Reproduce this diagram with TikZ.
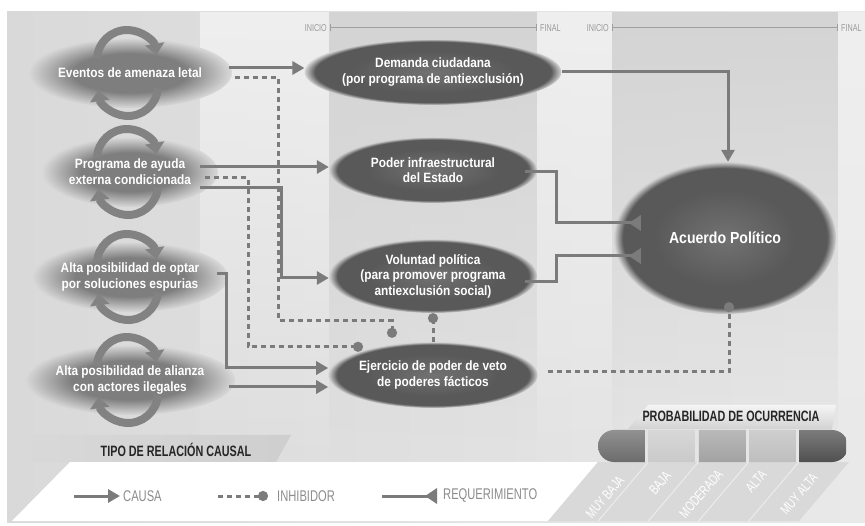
\documentclass[tikz,border=0pt]{standalone}
\usepackage{fontspec}
\setmainfont{Liberation Sans}[FakeStretch=0.88]
\newfontfamily\narrowfont{Liberation Sans}[FakeStretch=0.72]
\usetikzlibrary{shapes.geometric,arrows.meta,positioning,fadings}

\definecolor{panelL}{HTML}{D9D9D9}
\definecolor{panelR}{HTML}{E9E9E9}
\definecolor{band}{HTML}{D4D4D4}
\definecolor{lane}{HTML}{EFEFEF}
\definecolor{conn}{HTML}{7B7B7B}
\definecolor{ovalc}{HTML}{595959}
\definecolor{fuzz}{HTML}{7E7E7E}
\definecolor{arcgray}{HTML}{828282}
\definecolor{legtxt}{HTML}{8C8C8C}
\definecolor{pmb}{HTML}{6C6C6C}
\definecolor{pb}{HTML}{CACACA}
\definecolor{pm}{HTML}{A2A2A2}
\definecolor{pa}{HTML}{BEBEBE}
\definecolor{pma}{HTML}{505050}

\pgfdeclareradialshading{fuzzshade}{\pgfpoint{0bp}{0bp}}{color(0bp)=(fuzz); color(14bp)=(fuzz); color(25bp)=(panelL); color(50bp)=(panelL)}
\pgfdeclareradialshading{ovalshade}{\pgfpoint{0bp}{0bp}}{color(0bp)=(ovalc!85!white); color(16bp)=(ovalc); color(23bp)=(ovalc); color(25bp)=(band); color(50bp)=(band)}
\tikzfading[name=bandfade, top color=transparent!0, bottom color=transparent!100]

\begin{document}
\begin{tikzpicture}[x=1pt,y=-1pt,
    fuzzy/.style={ellipse, shade, shading=fuzzshade, minimum width=176, minimum height=70, inner sep=0pt, text=white, align=center, font=\bfseries\fontsize{13.5}{16}\selectfont},
    oval/.style={ellipse, shade, shading=ovalshade, minimum width=208, minimum height=66, inner sep=0pt, text=white, align=center, font=\bfseries\fontsize{13.5}{15.5}\selectfont},
    causa/.style={draw=conn, line width=3pt, -{Triangle[length=12pt,width=13pt]}},
    inhib/.style={draw=conn, line width=3pt, dash pattern=on 5pt off 4pt, -{Circle[length=10pt]}},
    req/.style={draw=conn, line width=3pt, -{Triangle[reversed,length=12pt,width=15pt]}},
    cyc/.style={draw=arcgray, line width=8pt, -{Triangle[length=11pt,width=19pt]}},
    phase/.style={draw=gray!75, line width=1pt, {Bar[width=7pt]}-{Bar[width=7pt]}},
    phaselbl/.style={font=\narrowfont\fontsize{10}{10}\selectfont, text=gray!80, inner sep=1pt},
    legtext/.style={font=\narrowfont\fontsize{15.5}{16}\selectfont, text=legtxt, inner sep=0pt},
    tabtext/.style={font=\narrowfont\bfseries\fontsize{15}{16}\selectfont, text=black!85, inner sep=0pt},
    lvl/.style={font=\narrowfont\fontsize{14}{14}\selectfont, text=white, rotate=49, inner sep=0pt}]

    \useasboundingbox (0,0) rectangle (865,526);
    % background and time bands
    \fill[white] (0,0) rectangle (865,526);
    \shade[left color=panelL, right color=panelR] (7,12) rectangle (865,522);
    \fill[lane, path fading=bandfade] (200,12) rectangle (329,470);
    \fill[band, path fading=bandfade] (329,12) rectangle (537,470);
    \fill[lane, path fading=bandfade] (537,12) rectangle (612,470);
    \fill[band, path fading=bandfade] (612,12) rectangle (838,470);
    \fill[lane, path fading=bandfade] (838,12) rectangle (865,470);

    \coordinate (i1) at (330,28); \coordinate (f1) at (537,28);
    \coordinate (i2) at (612,28); \coordinate (f2) at (838,28);
    \draw[phase] (i1) -- (f1);
    \draw[phase] (i2) -- (f2);
    \node[phaselbl, left=2pt of i1] (ini1) {INICIO};
    \node[phaselbl, right=2pt of f1] (fin1) {FINAL};
    \node[phaselbl, left=2pt of i2] (ini2) {INICIO};
    \node[phaselbl, right=2pt of f2] (fin2) {FINAL};

    % legend
    \shade[left color=panelL, right color=gray!38] (20,435) -- (291,435) -- (276,462) -- (20,462) -- cycle;
    \node[tabtext] (tipo) at (176,450) {TIPO DE RELACIÓN CAUSAL};
    \fill[white] (70,462) -- (598,462) -- (548,521) -- (12,521) -- cycle;
    \fill[gray!30] (598,462) -- (849,462) -- (799,521) -- (548,521) -- cycle;
    \foreach \i in {1,...,4}
        \draw[white!85!gray, line width=1pt] ({598+50.2*\i},462) -- ++(-50,59);

    \coordinate (c1) at (74,496); \coordinate (c2) at (120,496);
    \draw[causa] (c1) -- (c2);
    \node[legtext, right=3pt of c2] (lcausa) {CAUSA};
    \coordinate (h1) at (218,496); \coordinate (h2) at (268,496);
    \draw[inhib] (h1) -- (h2);
    \node[legtext, right=9pt of h2] (linhib) {INHIBIDOR};
    \coordinate (r1) at (382,496); \coordinate (r2) at (437,496);
    \draw[req] (r1) -- (r2);
    \node[legtext, right=6pt of r2] (lreq) {REQUERIMIENTO};

    \shade[top color=gray!8, bottom color=gray!35] (628,429) -- (648,405) -- (836,405) -- (832,429) -- cycle;
    \node[tabtext] (prob) at (731,416) {PROBABILIDAD DE OCURRENCIA};
    \begin{scope}
        \clip[rounded corners=16pt] (598,430) rectangle (848,462);
        \foreach \c [count=\i from 0] in {pmb,pb,pm,pa,pma}
            \shade[top color=\c!75!white, bottom color=\c] ({598+50.4*\i},430) rectangle ++(46.5,32);
    \end{scope}
    \foreach \t/\x/\y [count=\i] in {MUY BAJA/605/497, BAJA/660/483, MODERADA/701/494, ALTA/756/481, MUY ALTA/799/494}
        \node[lvl] (lv\i) at (\x,\y) {\t};

    % factors
    \node[fuzzy] (ev) at (130,73) {Eventos de amenaza letal};
    \node[fuzzy] (prog) at (130,172) {Programa de ayuda\\externa condicionada};
    \node[fuzzy] (opt) at (130,277) {Alta posibilidad de optar\\por soluciones espurias};
    \node[fuzzy] (ali) at (130,380) {Alta posibilidad de alianza\\con actores ilegales};
    \foreach \n in {ev,prog,opt,ali}{
        \draw[cyc] ([shift={(-3,-13)}]\n.center) ++(-178:30) arc[start angle=-178, end angle=-10, radius=30];
        \draw[cyc] ([shift={(-2,13)}]\n.center) ++(5:30) arc[start angle=5, end angle=172, radius=30];
    }

    \node[oval] (dem) at (433,72) {Demanda ciudadana\\(por programa de antiexclusión)};
    \node[oval] (pod) at (433,170) {Poder infraestructural\\del Estado};
    \node[oval, minimum height=74] (vol) at (433,276) {Voluntad política\\(para promover programa\\antiexclusión social)};
    \node[oval] (vet) at (433,375) {Ejercicio de poder de veto\\de poderes fácticos};
    \node[oval, minimum width=222, minimum height=152, font=\bfseries\fontsize{16}{18}\selectfont] (acu) at (725,238) {Acuerdo Político};

    % connectors
    \coordinate (evA) at ([xshift=-3pt,yshift=5pt]ev.east);
    \coordinate (evB) at ([xshift=3pt,yshift=-5pt]ev.east);
    \coordinate (progA) at ([xshift=-18pt,yshift=5pt]prog.east);
    \coordinate (progB) at ([xshift=-13pt,yshift=-6pt]prog.east);
    \coordinate (progC) at ([xshift=-18pt,yshift=-16pt]prog.east);
    \coordinate (optA) at ([xshift=-11pt,yshift=3pt]opt.east);
    \coordinate (aliA) at ([xshift=-6pt,yshift=-7pt]ali.east);
    \coordinate (rqA) at ([xshift=27pt,yshift=15pt]acu.west);
    \coordinate (rqB) at ([xshift=27pt,yshift=-18pt]acu.west);

    \draw[causa] (evA) -- (evA -| dem.west);
    \draw[causa] (progA) -- (progA -| pod.west);
    \draw[causa] (progC) -| ([xshift=-47pt,yshift=-2pt]vol.west) -- ([yshift=-2pt]vol.west);
    \draw[causa] (optA) -| ([xshift=-102pt,yshift=7pt]vet.west) -- ([yshift=7pt]vet.west);
    \draw[causa] (aliA) -- (aliA -| vet.west);
    \draw[causa] (dem.east) -| ([xshift=3pt]acu.north);

    \draw[req] ([xshift=-12pt,yshift=-2pt]pod.east) -| ([xshift=-84pt]rqA) -- (rqA);
    \draw[req] ([xshift=-12pt,yshift=-6pt]vol.east) -| ([xshift=-84pt]rqB) -- (rqB);

    \draw[inhib] (evB) -- ++(44,0) |- ([xshift=-41pt,yshift=21pt]vet.north) -- ([xshift=-41pt,yshift=4pt]vet.north);
    \draw[inhib] (progB) -- ++(43,0) |- ([xshift=-70pt,yshift=-5pt]vet.north);
    \draw[inhib] (vet.north) -- (vol.south);
    \draw[inhib] ([xshift=10pt,yshift=3pt]vet.east) -| ([xshift=4pt,yshift=12pt]acu.south);
\end{tikzpicture}
\end{document}
